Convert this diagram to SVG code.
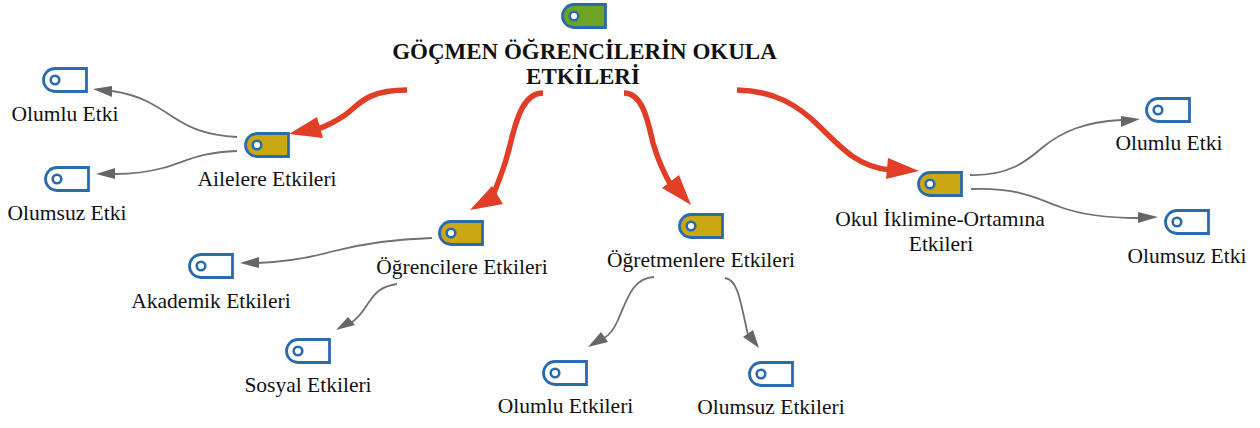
<svg xmlns="http://www.w3.org/2000/svg" width="1260" height="428" viewBox="0 0 1260 428">
<style>
text{font-family:"Liberation Serif",serif;font-size:21.500px;fill:#111;text-anchor:middle}
.t{font-weight:bold;font-size:23px}
.b{fill:#fff;stroke:#2a6bad;stroke-width:2.800}
.h{fill:#fff;stroke:#2a6bad;stroke-width:2.600}
.big{fill:none;stroke:#e03e26;stroke-width:5.500}
.sm{fill:none;stroke:#707070;stroke-width:1.800}
.ah{fill:#e03e26}.as{fill:#666}
</style>
<defs>
<path id="tag" d="M-10-11.500H21.500V11.500H-10A11.500 11.500 0 0 1-21.500 0A11.500 11.500 0 0 1-10-11.500Z"/>
<g id="w"><use href="#tag" class="b"/><circle cx="-10" cy="0" r="4.300" class="h"/></g>
<g id="y"><use href="#tag" class="b" style="fill:#cba813"/><circle cx="-10" cy="0" r="4.300" class="h"/></g>
</defs>
<g id="connectors">
<path class="big" d="M407 90C365 90 358 106 345 115C335 122 327 126 315 130"/>
<polygon class="ah" points="289,134 317,117 323,138"/>
<path class="big" d="M543 93C524 93 517 118 512 137C506 162 503 170 494 193"/>
<polygon class="ah" points="470,210 492,186 503,204"/>
<path class="big" d="M624 93C643 93 648 122 653 143C658 160 663 172 672 187"/>
<polygon class="ah" points="691,205 662,188 679,175"/>
<path class="big" d="M737 90C775 91 798 105 820 127C845 152 860 167 890 170"/>
<polygon class="ah" points="919,171 888,158 886,179"/>
<path class="sm" d="M237 137C205 135 190 128 173 117C155 105 140 95 112 91"/>
<polygon class="as" points="93,89 112,86 112,97"/>
<path class="sm" d="M237 151C200 152 185 162 163 168C148 172 130 174 115 174"/>
<polygon class="as" points="96,174 115,168 115,179"/>
<path class="sm" d="M432 238C392 239 360 244 330 252C305 259 280 262 258 263"/>
<polygon class="as" points="240,263 259,257 259,268"/>
<path class="sm" d="M397 284C378 287 374 295 367 305C362 313 358 318 351 323"/>
<polygon class="as" points="336,330 348,317 355,325"/>
<path class="sm" d="M654 277C632 278 627 300 618 320C614 329 610 335 604 338"/>
<polygon class="as" points="588,347 601,332 608,342"/>
<path class="sm" d="M725 278C738 280 740 300 748 335"/>
<polygon class="as" points="759,348 743,337 753,330"/>
<path class="sm" d="M970 175C1008 176 1026 162 1043 147C1063 131 1085 122 1121 120"/>
<polygon class="as" points="1140,119 1121,116 1121,127"/>
<path class="sm" d="M971 189C1020 187 1040 200 1060 207C1085 216 1110 218 1138 218"/>
<polygon class="as" points="1158,217 1138,212 1138,223"/>
</g>
<g id="n0"><use href="#tag" class="b" transform="translate(584 16)" style="fill:#6ea424"/><circle cx="574" cy="16" r="4.300" class="h"/><text class="t" x="584.500" y="59">GÖÇMEN ÖĞRENCİLERİN OKULA</text><text class="t" x="583" y="84">ETKİLERİ</text></g>
<g id="n1"><use href="#y" x="267" y="145"/><text x="267" y="186">Ailelere Etkileri</text></g>
<g id="n2"><use href="#w" x="65" y="80"/><text x="65" y="121">Olumlu Etki</text></g>
<g id="n3"><use href="#w" x="67" y="179"/><text x="67" y="220">Olumsuz Etki</text></g>
<g id="n4"><use href="#y" x="461" y="233"/><text x="462" y="274">Öğrencilere Etkileri</text></g>
<g id="n5"><use href="#w" x="211" y="266"/><text x="211" y="308">Akademik Etkileri</text></g>
<g id="n6"><use href="#w" x="308" y="351"/><text x="308" y="392">Sosyal Etkileri</text></g>
<g id="n7"><use href="#y" x="701" y="226"/><text x="701" y="267">Öğretmenlere Etkileri</text></g>
<g id="n8"><use href="#w" x="565" y="373"/><text x="565.500" y="413">Olumlu Etkileri</text></g>
<g id="n9"><use href="#w" x="771" y="374"/><text x="771" y="414">Olumsuz Etkileri</text></g>
<g id="n10"><use href="#y" x="940" y="184"/><text x="940" y="226">Okul İklimine-Ortamına</text><text x="941" y="251">Etkileri</text></g>
<g id="n11"><use href="#w" x="1168" y="110"/><text x="1169" y="150">Olumlu Etki</text></g>
<g id="n12"><use href="#w" x="1187" y="222"/><text x="1187" y="263">Olumsuz Etki</text></g>
</svg>
